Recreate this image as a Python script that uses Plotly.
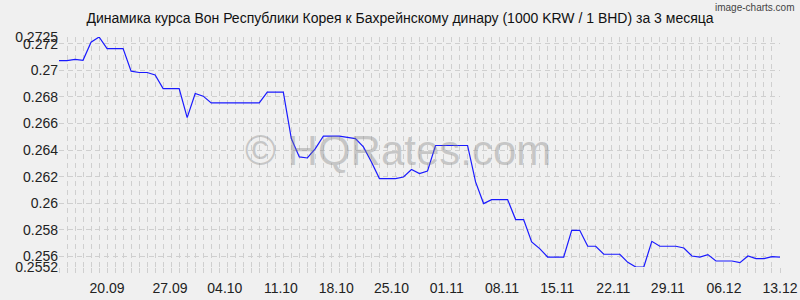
import plotly.graph_objects as go

# Daily index 0..90 (14.09 .. 13.12)
day_index = list(range(91))
rates = [
    0.27073, 0.27073, 0.27081, 0.27075, 0.27211, 0.27250, 0.27163, 0.27163, 0.27163, 0.26993,
    0.26983, 0.26983, 0.26965, 0.26862, 0.26862, 0.26862, 0.26644, 0.26825, 0.26805, 0.26754,
    0.26754, 0.26754, 0.26754, 0.26754, 0.26754, 0.26754, 0.26835, 0.26835, 0.26835, 0.26486,
    0.26348, 0.26340, 0.26411, 0.26504, 0.26504, 0.26504, 0.26495, 0.26486, 0.26423, 0.26310,
    0.26185, 0.26185, 0.26185, 0.26197, 0.26253, 0.26223, 0.26242, 0.26434, 0.26434, 0.26434,
    0.26434, 0.26434, 0.26160, 0.25997, 0.26027, 0.26027, 0.26027, 0.25877, 0.25877, 0.25708,
    0.25658, 0.25595, 0.25595, 0.25595, 0.25796, 0.25796, 0.25676, 0.25676, 0.25616, 0.25616,
    0.25616, 0.25555, 0.25520, 0.25520, 0.25713, 0.25676, 0.25676, 0.25676, 0.25663, 0.25603,
    0.25595, 0.25613, 0.25565, 0.25565, 0.25565, 0.25553, 0.25603, 0.25583, 0.25583, 0.25598,
    0.25595,
]

x_tick_pos = [6, 13.85, 20.7, 27.7, 34.6, 41.5, 48.4, 55.3, 62.2, 69.2, 76, 83, 90]
x_tick_labels = ["20.09", "27.09", "04.10", "11.10", "18.10", "25.10", "01.11",
                 "08.11", "15.11", "22.11", "29.11", "06.12", "13.12"]

y_tick_vals = [0.2552, 0.256, 0.258, 0.26, 0.262, 0.264, 0.266, 0.268, 0.27, 0.272, 0.2725]
y_tick_labels = ["0.2552", "0.256", "0.258", "0.26", "0.262", "0.264", "0.266",
                 "0.268", "0.27", "0.272", "0.2725"]

title_text = "Динамика курса Вон Республики Корея к Бахрейнскому динару (1000 KRW / 1 BHD) за 3 месяца"

FONT = "Liberation Sans, Arial, sans-serif"
GRID = "#cfcfcf"

fig = go.Figure()
fig.add_trace(go.Scatter(
    x=day_index, y=rates, mode="lines",
    line=dict(color="#1a1aff", width=1.2),
    hoverinfo="skip",
))

fig.update_layout(
    width=800, height=300,
    margin=dict(l=59, r=20, t=37, b=33),
    paper_bgcolor="#f0f0f0", plot_bgcolor="#f0f0f0",
    showlegend=False,
    font=dict(family=FONT, size=14, color="#222222"),
    title=dict(text=title_text, x=0.5, xanchor="center", y=1 - 18 / 300, yanchor="middle",
               font=dict(family=FONT, size=14, color="#111111")),
    annotations=[
        dict(text="image-charts.com", xref="paper", yref="paper", x=1 + 16 / 721, y=1 + 30 / 230,
             xanchor="right", yanchor="middle", showarrow=False,
             font=dict(family=FONT, size=10, color="#444444")),
        dict(text="© HQRates.com", xref="paper", yref="paper", x=(398 - 59) / 721, y=(267 - 150) / 230,
             xanchor="center", yanchor="middle", showarrow=False,
             font=dict(family=FONT, size=42, color="rgba(130,130,130,0.38)")),
    ],
)

fig.update_xaxes(
    range=[0, 90], tickvals=x_tick_pos, ticktext=x_tick_labels,
    showgrid=False, zeroline=False, showline=False, ticks="",
    ticklabelstandoff=11, automargin=False,
    minor=dict(dtick=1, tick0=0, showgrid=True, gridcolor=GRID, griddash="5px,4px",
               gridwidth=1, ticks="outside", ticklen=5, tickcolor=GRID),
    tickfont=dict(family=FONT, size=14, color="#222222"),
)
fig.update_yaxes(
    range=[0.2552, 0.2725], tickvals=y_tick_vals, ticktext=y_tick_labels,
    showgrid=True, gridcolor=GRID, griddash="5px,4px", gridwidth=1,
    zeroline=False, showline=False, ticks="", automargin=False,
    tickfont=dict(family=FONT, size=14, color="#222222"),
)

fig.write_html("out.html")
